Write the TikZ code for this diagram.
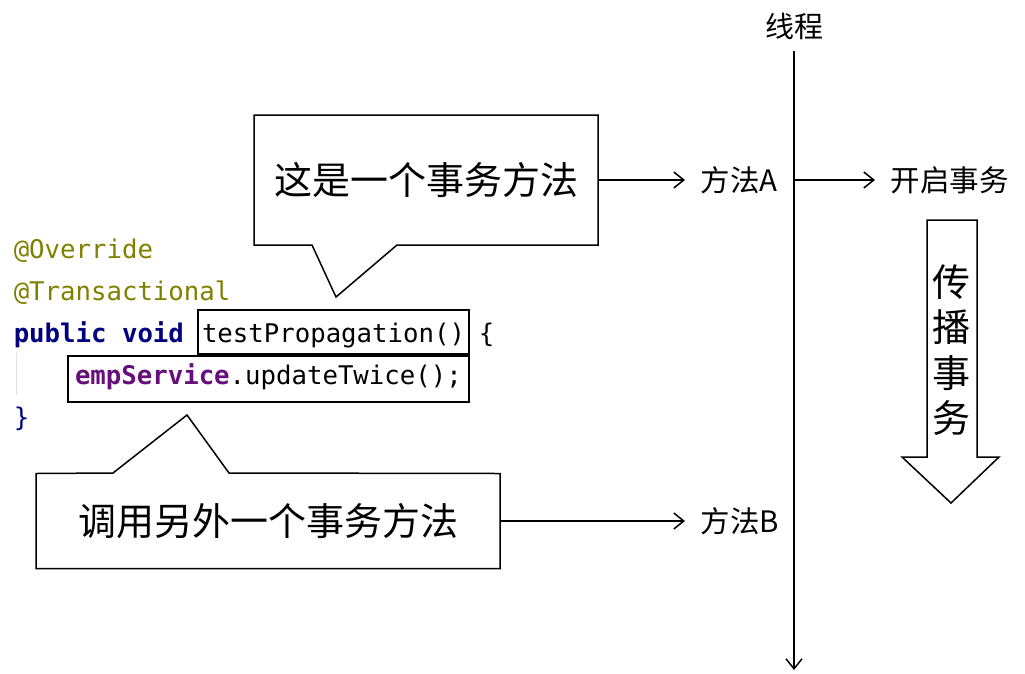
\documentclass[tikz,border=0pt]{standalone}
\usepackage{fontspec}
\usepackage{xcolor}
\usepackage{tikz}
\usetikzlibrary{arrows.meta}
\newfontfamily\cjkfont{Noto Sans CJK SC}
\newfontfamily\codefont{DejaVu Sans Mono}
\definecolor{annocol}{RGB}{128,128,0}
\definecolor{kwcol}{RGB}{0,0,128}
\definecolor{fieldcol}{RGB}{102,14,122}
\definecolor{guidecol}{RGB}{225,225,225}

\begin{document}
\begin{tikzpicture}[x=1pt,y=1pt,yscale=-1,xscale=1,
  line width=1.5pt, >={Straight Barb[length=10pt,width=16pt]},
  bigtxt/.style={font=\cjkfont\fontsize{38}{44}\selectfont},
  lab/.style={font=\cjkfont\fontsize{29.5}{34}\selectfont, inner xsep=15pt, inner ysep=2pt, anchor=west},
  code/.style={font=\codefont\fontsize{25.7}{30}\selectfont, anchor=base west, inner sep=0pt},
  codebox/.style={code, draw, line width=2pt, inner xsep=4pt, text height=32pt, text depth=12pt},
  callbox/.style={bigtxt, inner sep=0pt, outer sep=0pt}
]
\useasboundingbox (0,0) rectangle (1025,673);

% Code lines
\node (ovr) [code, text=annocol] at (13,258) {@Override};
\node (tx) [code, text=annocol] at (13,300) {@Transactional};
\node (pv) [code, text=kwcol] at (13,342) {\bfseries public void};
\node (sig) [codebox] at (197,342) {testPropagation()};
\node (brace) [code] at (478,342) {\{};
\node (upd) [codebox, inner xsep=7pt, text height=28pt, text depth=18pt] at (67,384) {\textcolor{fieldcol}{\bfseries empService}.updateTwice();};
\node (close) [code, text=kwcol] at (13,426) {\}};
%Straight Lines: indent guide
\draw [guidecol, line width=1pt] (16,353) -- (16,395);

%Shape: Callout A
\node (callA) [callbox, minimum width=344pt, minimum height=130pt] at (426,180) {这是一个事务方法};
\draw (callA.north west) -- (callA.north east) -- (callA.south east) -- (397,245) -- (336,297) -- (312,245) -- (callA.south west) -- cycle;
%Shape: Callout B
\node (callB) [callbox, minimum width=464pt, minimum height=95pt] at (268,521) {调用另外一个事务方法};
\draw (callB.north west) -- (113,473) -- (187,415) -- (229,473) -- (callB.north east) -- (callB.south east) -- (callB.south west) -- cycle;

% Thread
\node (thread) [font=\cjkfont\fontsize{29}{34}\selectfont] at (794,26) {线程};
\coordinate (ttop) at (794,51);
\coordinate (tend) at (794,670);
\draw [->] (ttop) -- (tend);

% Text Node
\node (mA) [lab] at (685,180) {方法A};
% Text Node
\node (mB) [lab] at (685,521) {方法B};
% Text Node
\node (open) [lab] at (875,180) {开启事务};

%Straight Lines
\draw [->] (callA.east) -- (mA.west);
\draw [->] (callB.east) -- (mB.west);
\draw [->] (mA -| ttop) -- (open.west);

%Shape: Down Arrow
\draw (927,220) -- (977,220) -- (977,457) -- (999,457) -- (951,503) -- (902,457) -- (927,457) -- cycle;
\node (prop) [align=center, font=\cjkfont\fontsize{38}{45.5}\selectfont] at (951,350) {传\\播\\事\\务};

\end{tikzpicture}
\end{document}
